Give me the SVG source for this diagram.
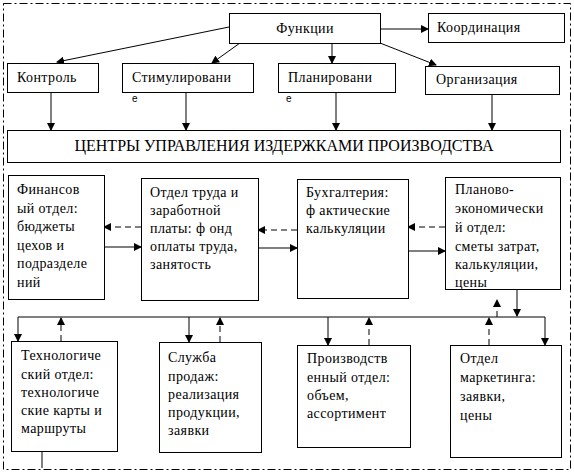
<svg xmlns="http://www.w3.org/2000/svg" width="574" height="473" viewBox="0 0 574 473" font-family="'Liberation Serif', serif">
<style>
.box{fill:#fff;stroke:#000;stroke-width:1}
.t{font-family:'Liberation Serif','Times New Roman',Times,serif;font-size:14px;fill:#000;letter-spacing:0.4px}
.s{font-family:'Liberation Sans',Arial,sans-serif;font-size:10px;fill:#000}
.c{fill:none;stroke:#000;stroke-width:1}
.d{stroke-dasharray:6,4}
</style>
<defs>
<marker id="a" markerUnits="userSpaceOnUse" markerWidth="8" markerHeight="8" refX="7" refY="4" orient="auto">
<path d="M0,0 L8,4 L0,8 z" fill="#000"/>
</marker>
</defs>
<rect x="3.5" y="3.5" width="567" height="466" fill="none" stroke="#000" stroke-dasharray="8,3,2,3"/>
<g id="connectors">
<path class="c" d="M380,29 L428,29" marker-end="url(#a)"/>
<path class="c" d="M229,27 L57,62" marker-end="url(#a)"/>
<path class="c" d="M240,43 L212,63" marker-end="url(#a)"/>
<path class="c" d="M332,43 L332,63" marker-end="url(#a)"/>
<path class="c" d="M380,43 L436,65" marker-end="url(#a)"/>
<path class="c" d="M51,92 L51,130" marker-end="url(#a)"/>
<path class="c" d="M186,92 L186,130" marker-end="url(#a)"/>
<path class="c" d="M336,93 L336,130" marker-end="url(#a)"/>
<path class="c" d="M492,94 L492,130" marker-end="url(#a)"/>
<path class="c" d="M104,247 L141,247" marker-end="url(#a)"/>
<path class="c d" d="M141,227 L104,227" marker-end="url(#a)"/>
<path class="c" d="M258,248 L297,248" marker-end="url(#a)"/>
<path class="c d" d="M297,230 L258,230" marker-end="url(#a)"/>
<path class="c" d="M408,251 L445,251" marker-end="url(#a)"/>
<path class="c d" d="M445,227 L408,227" marker-end="url(#a)"/>
<path class="c" d="M18,317 L545,317"/>
<path class="c" d="M517,289 L517,316" marker-end="url(#a)"/>
<path class="c d" d="M497,317 L497,300" marker-end="url(#a)"/>
<path class="c" d="M18,317 L18,341" marker-end="url(#a)"/>
<path class="c" d="M189,317 L189,342" marker-end="url(#a)"/>
<path class="c" d="M328,317 L328,345" marker-end="url(#a)"/>
<path class="c" d="M545,317 L545,345" marker-end="url(#a)"/>
<path class="c d" d="M61,341 L61,318" marker-end="url(#a)"/>
<path class="c d" d="M220,342 L220,318" marker-end="url(#a)"/>
<path class="c d" d="M369,345 L369,318" marker-end="url(#a)"/>
<path class="c d" d="M489,345 L489,318" marker-end="url(#a)"/>
<path class="c" d="M42,451 L42,468"/>
</g>
<g id="functions"><rect class="box" x="229.5" y="13.5" width="151" height="30"/><text class="t" x="305" y="33" text-anchor="middle">Функции</text></g>
<g id="coordination"><rect class="box" x="428.5" y="13.5" width="136" height="29"/><text class="t" x="437" y="32">Координация</text></g>
<g id="control"><rect class="box" x="7.5" y="63.5" width="91" height="29"/><text class="t" x="17" y="82">Контроль</text></g>
<g id="stimulation"><rect class="box" x="122.5" y="63.5" width="131" height="29"/><text class="t" x="132" y="82">Стимулировани</text><text class="s" x="132" y="102">е</text></g>
<g id="planning"><rect class="box" x="278.5" y="63.5" width="117" height="29"/><text class="t" x="288" y="82">Планировани</text><text class="s" x="286" y="102">е</text></g>
<g id="organization"><rect class="box" x="425.5" y="66.5" width="134" height="28"/><text class="t" x="436" y="84">Организация</text></g>
<g id="centers"><rect class="box" x="7.5" y="130.5" width="553" height="32"/><text class="t" x="284" y="151" text-anchor="middle" style="font-size:16px;letter-spacing:0">ЦЕНТРЫ УПРАВЛЕНИЯ ИЗДЕРЖКАМИ ПРОИЗВОДСТВА</text></g>
<g id="finance"><rect class="box" x="8.5" y="175.5" width="96" height="124"/>
<text class="t" x="17" y="194">Финансов</text><text class="t" x="17" y="212.5">ый отдел:</text><text class="t" x="17" y="231">бюджеты</text><text class="t" x="17" y="249.5">цехов и</text><text class="t" x="17" y="268">подразделе</text><text class="t" x="17" y="286.5">ний</text></g>
<g id="labor"><rect class="box" x="141.5" y="178.5" width="117" height="122"/>
<text class="t" x="150" y="197">Отдел труда и</text><text class="t" x="150" y="215">заработной</text><text class="t" x="150" y="233">платы: ф онд</text><text class="t" x="150" y="251">оплаты труда,</text><text class="t" x="150" y="269">занятость</text></g>
<g id="accounting"><rect class="box" x="297.5" y="179.5" width="111" height="119"/>
<text class="t" x="306" y="197">Бухгалтерия:</text><text class="t" x="306" y="215">ф актические</text><text class="t" x="306" y="233">калькуляции</text></g>
<g id="planeco"><rect class="box" x="445.5" y="177.5" width="115" height="112"/>
<text class="t" x="455" y="194">Планово-</text><text class="t" x="455" y="213">экономически</text><text class="t" x="455" y="232">й отдел:</text><text class="t" x="455" y="250.5">сметы затрат,</text><text class="t" x="455" y="269">калькуляции,</text><text class="t" x="455" y="287">цены</text></g>
<g id="tech"><rect class="box" x="11.5" y="341.5" width="106" height="110"/>
<text class="t" x="21" y="360">Технологиче</text><text class="t" x="21" y="378.5">ский отдел:</text><text class="t" x="21" y="397">технологиче</text><text class="t" x="21" y="415">ские карты и</text><text class="t" x="21" y="433">маршруты</text></g>
<g id="sales"><rect class="box" x="159.5" y="342.5" width="102" height="110"/>
<text class="t" x="168" y="362">Служба</text><text class="t" x="168" y="380.5">продаж:</text><text class="t" x="168" y="399">реализация</text><text class="t" x="168" y="417">продукции,</text><text class="t" x="168" y="435">заявки</text></g>
<g id="production"><rect class="box" x="297.5" y="345.5" width="113" height="102"/>
<text class="t" x="307" y="363">Производств</text><text class="t" x="307" y="382">енный отдел:</text><text class="t" x="307" y="400">объем,</text><text class="t" x="307" y="418">ассортимент</text></g>
<g id="marketing"><rect class="box" x="450.5" y="345.5" width="111" height="112"/>
<text class="t" x="460" y="363">Отдел</text><text class="t" x="460" y="382">маркетинга:</text><text class="t" x="460" y="400.5">заявки,</text><text class="t" x="460" y="420">цены</text></g>
</svg>
